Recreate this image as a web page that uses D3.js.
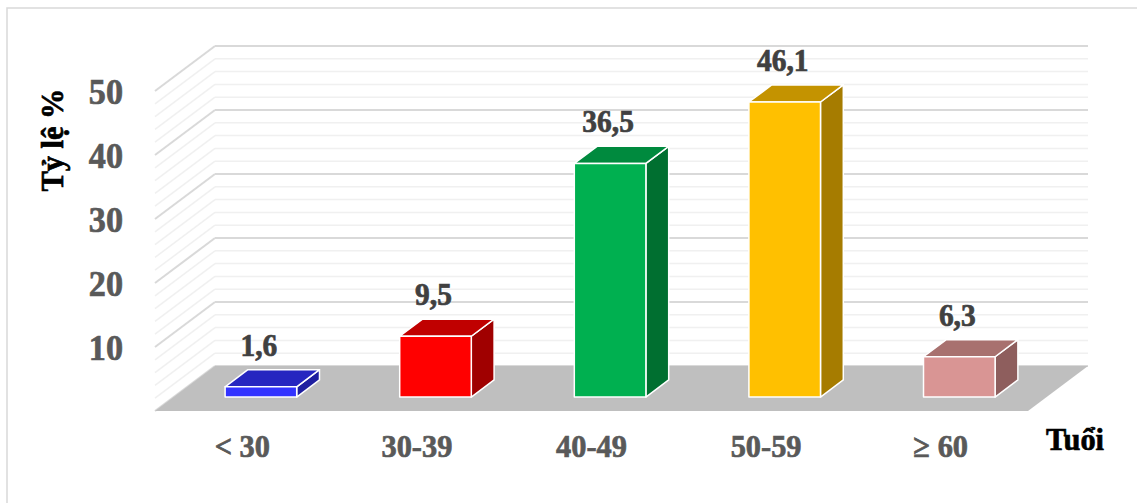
<!DOCTYPE html>
<html>
<head>
<meta charset="utf-8">
<script src="https://cdn.jsdelivr.net/npm/d3@7"></script>
<style>
  body { margin: 0; background: #fff; }
  svg { display: block; }
  text { font-family: "Liberation Serif", "Times New Roman", serif; font-weight: bold; }
</style>
</head>
<body>
<div id="chart"></div>
<script>
var categories = ['< 30', '30-39', '40-49', '50-59', '\u2265 60'];
var values = [1.6, 9.5, 36.5, 46.1, 6.3];
var labels = ['1,6', '9,5', '36,5', '46,1', '6,3'];
var yTicks = [10, 20, 30, 40, 50];

// front / top / side colours for each bar
var faceFront = ['#3333ff', '#ff0000', '#00b050', '#ffc000', '#d99594'];
var faceTop   = ['#2626c0', '#c00000', '#008a3e', '#c49300', '#a8716f'];
var faceSide  = ['#1f1fa0', '#a00000', '#006f30', '#a67c00', '#8e5e5d'];

var W = 1137, H = 503;
var DX = 60, DY = 45;          // depth offset, front -> back
var D0 = 0.31, D1 = 0.69;      // bar depth range (0 = front, 1 = back)
var SX = 0.95;                 // text in the picture is a bit narrow

var svg = d3.select('#chart').append('svg').attr('width', W).attr('height', H);

// chart border
svg.append('rect').attr('x', 7).attr('y', 8).attr('width', W + 20).attr('height', H + 20)
   .attr('fill', 'none').attr('stroke', '#d9d9d9').attr('stroke-width', 1.5);

// x on the front plane, y on the back wall
var x = d3.scaleBand().domain(categories).range([155, 1028]);
var y = d3.scaleLinear().domain([0, 50]).range([366, 46]);

function px(xf, d) { return xf + DX * d; }
function py(v, d) { return y(v) + DY * (1 - d); }
function pts(a) { return a.map(function(p) { return p.join(','); }).join(' '); }

function label(sel, tx, ty, rot, anchor, size, col, txt) {
  return sel.append('text')
    .attr('transform', 'translate(' + tx + ',' + ty + ') rotate(' + rot + ') scale(' + SX + ',1)')
    .attr('text-anchor', anchor).attr('font-size', size).attr('fill', col)
    .attr('stroke', col).attr('stroke-width', 0.7).text(txt);
}

// gridlines: back wall + left side wall
var grid = d3.range(0, 51, 2);
var g = svg.append('g');
grid.forEach(function(v) {
  var major = v % 10 == 0;
  var col = major ? '#d9d9d9' : '#f0f0f0';
  var sw = major ? 2 : 1.5;
  g.append('line').attr('x1', px(155, 1)).attr('x2', px(1028, 1))
    .attr('y1', py(v, 1)).attr('y2', py(v, 1)).attr('stroke', col).attr('stroke-width', sw);
  g.append('line').attr('x1', px(155, 0)).attr('x2', px(155, 1))
    .attr('y1', py(v, 0)).attr('y2', py(v, 1)).attr('stroke', col).attr('stroke-width', sw);
});

// floor
svg.append('polygon')
   .attr('points', pts([[px(155, 0), py(0, 0)], [px(155, 1), py(0, 1)], [px(1028, 1), py(0, 1)], [px(1028, 0), py(0, 0)]]))
   .attr('fill', '#bfbfbf');

// y tick labels (front plane)
yTicks.forEach(function(t) {
  label(svg, 123, py(t, 0) + 13, 0, 'end', 36, '#595959', t);
});

// bars
var bw = x.bandwidth() * 0.41;
var bars = svg.selectAll('g.bar').data(values).enter().append('g').classed('bar', true);
bars.each(function(v, i) {
  var b = d3.select(this);
  var xl = x(categories[i]) + x.bandwidth() / 2 - bw / 2, xr = xl + bw;
  var fl = [px(xl, D0), py(0, D0)], fr = [px(xr, D0), py(0, D0)];
  var tl = [px(xl, D0), py(v, D0)], tr = [px(xr, D0), py(v, D0)];
  var btl = [px(xl, D1), py(v, D1)], btr = [px(xr, D1), py(v, D1)], bbr = [px(xr, D1), py(0, D1)];
  b.append('polygon').attr('points', pts([fr, tr, btr, bbr])).attr('fill', faceSide[i]);
  b.append('polygon').attr('points', pts([tl, btl, btr, tr])).attr('fill', faceTop[i]);
  b.append('polygon').attr('points', pts([fl, tl, tr, fr])).attr('fill', faceFront[i]);
  b.selectAll('polygon').attr('stroke', '#fff').attr('stroke-width', 1.5).attr('stroke-linejoin', 'round');
  label(b, px((xl + xr) / 2, D0) - 2, py(v, D0) - 31, 0, 'middle', 31, '#404040', labels[i]);
});

// category labels
categories.forEach(function(c) {
  label(svg, x(c) + x.bandwidth() / 2, 457, 0, 'middle', 32, '#595959', c);
});

// axis titles
label(svg, 63, 140, -90, 'middle', 32, '#000', 'Tỷ lệ %');
label(svg, 1075, 450, 0, 'middle', 32, '#000', 'Tuổi');
</script>
</body>
</html>
